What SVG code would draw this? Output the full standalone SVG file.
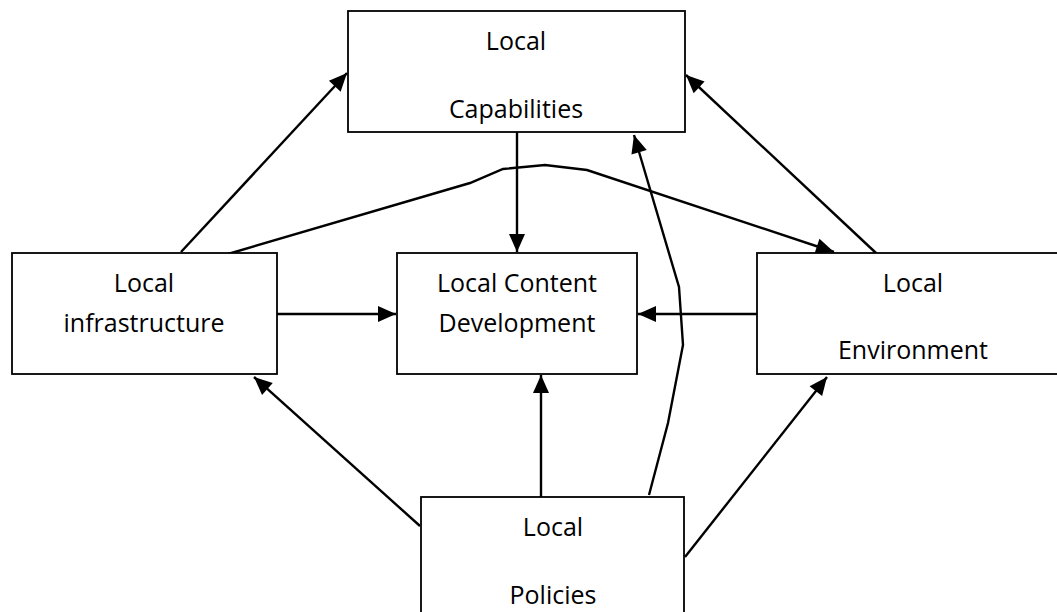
<svg xmlns="http://www.w3.org/2000/svg" width="1057" height="612" viewBox="0 0 1057 612">
<style>
.box{fill:#fff;stroke:#000;stroke-width:1.8}
.t{font-family:"Open Sans","Liberation Sans",sans-serif;font-size:25px;fill:#000;text-anchor:middle}
.c{fill:none;stroke:#000;stroke-width:2.4}
</style>
<defs>
<marker id="ah" markerUnits="userSpaceOnUse" markerWidth="19" markerHeight="17" refX="18" refY="8" orient="auto" overflow="visible">
<path d="M0,0 L18,8 L0,16 z" fill="#000"/>
</marker>
</defs>
<rect width="1057" height="612" fill="#fff"/>
<g id="connectors">
<line class="c" x1="181" y1="252" x2="347" y2="73" marker-end="url(#ah)"/>
<line class="c" x1="876" y1="253" x2="686" y2="75" marker-end="url(#ah)"/>
<line class="c" x1="517" y1="132" x2="517" y2="252" marker-end="url(#ah)"/>
<polyline class="c" points="228,254 470,183 503,169 545,165 587,170 834,252" marker-end="url(#ah)"/>
<line class="c" x1="277" y1="314" x2="396" y2="314" marker-end="url(#ah)"/>
<line class="c" x1="757" y1="314" x2="638" y2="314" marker-end="url(#ah)"/>
<line class="c" x1="541" y1="497" x2="541" y2="375" marker-end="url(#ah)"/>
<line class="c" x1="420" y1="526" x2="254" y2="377" marker-end="url(#ah)"/>
<line class="c" x1="685" y1="557" x2="827" y2="377" marker-end="url(#ah)"/>
<polyline class="c" points="649,495 668,423 683,345 679,287 634,135" marker-end="url(#ah)"/>
</g>
<g id="node-capabilities">
<rect class="box" x="348" y="11" width="337" height="121"/>
<text class="t" x="516" y="50">Local</text>
<text class="t" x="516" y="118">Capabilities</text>
</g>
<g id="node-infrastructure">
<rect class="box" x="12" y="253" width="265" height="121"/>
<text class="t" x="144" y="292">Local</text>
<text class="t" x="144" y="332">infrastructure</text>
</g>
<g id="node-content">
<rect class="box" x="397" y="253" width="240" height="121"/>
<text class="t" x="517" y="292">Local Content</text>
<text class="t" x="517" y="332">Development</text>
</g>
<g id="node-environment">
<rect class="box" x="757" y="253" width="312" height="121"/>
<text class="t" x="913" y="292">Local</text>
<text class="t" x="913" y="359">Environment</text>
</g>
<g id="node-policies">
<rect class="box" x="421" y="497" width="263" height="130"/>
<text class="t" x="553" y="536">Local</text>
<text class="t" x="553" y="604">Policies</text>
</g>
</svg>
